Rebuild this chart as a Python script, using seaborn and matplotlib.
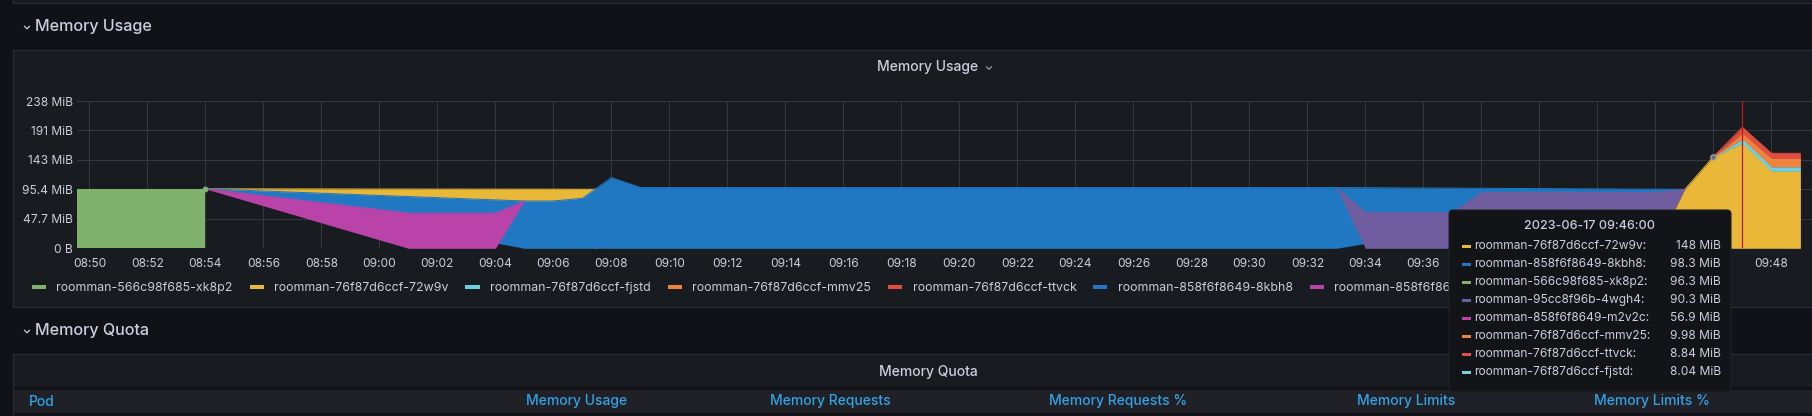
import matplotlib
matplotlib.use("Agg")
import matplotlib.pyplot as plt
import matplotlib.dates as mdates
from matplotlib.lines import Line2D
from matplotlib.patches import FancyBboxPatch, Rectangle
from matplotlib.ticker import FuncFormatter, MultipleLocator
from matplotlib.transforms import Affine2D, Bbox, TransformedBbox
import numpy as np
import pandas as pd
import seaborn as sns

W, H, DPI = 1812, 416, 100
MIB = 1048576
DAY = "2023-06-17 "

PAGE = "#111217"
PANEL = "#181b1f"
BORDER = "#2a2d33"
TEXT = "#ccccdc"
GRID = "#34373c"
LINK = "#33a2e5"

# pods in stacking order (bottom first), same order as the legend
pods = ["roomman-566c98f685-xk8p2", "roomman-76f87d6ccf-72w9v", "roomman-76f87d6ccf-fjstd",
        "roomman-76f87d6ccf-mmv25", "roomman-76f87d6ccf-ttvck", "roomman-858f6f8649-8kbh8",
        "roomman-858f6f8649-m2v2c", "roomman-95cc8f96b-4wgh4"]
colors = ["#7eb26d", "#eab839", "#6ed0e0", "#ef843c", "#e24d42", "#1f78c1", "#ba43a9", "#705da0"]

# samples (MiB); None = gap in the series
xk8p2_t = ["08:49", "08:50", "08:51", "08:52", "08:53", "08:54"]
xk8p2_v = [96.3, 96.3, 96.3, 96.3, 96.3, 96.3]
w9v_t = ["08:54", "09:07:30", "09:08", "09:44", "09:45", "09:46", "09:47", "09:48", "09:49"]
w9v_v = [0, 95.5, None, 0, 94.4, 148, 170, 125, 125]
fjstd_t = ["09:46", "09:47", "09:48", "09:49"]
fjstd_v = [0, 7.0, 7.0, 7.0]
mmv25_t = ["09:46", "09:47", "09:48", "09:49"]
mmv25_v = [0, 9.2, 13.6, 13.6]
ttvck_t = ["09:46", "09:47", "09:48", "09:49"]
ttvck_v = [0, 9.7, 8.1, 8.1]
kbh8_t = ["08:54", "09:05", "09:06", "09:07", "09:08", "09:09", "09:15", "09:21", "09:27", "09:33", "09:45"]
kbh8_v = [0, 76.6, 76.6, 81.0, 114.4, 98.3, 98.3, 98.3, 98.3, 98.3, 1.0]
m2v2c_t = ["08:54", "09:01", "09:04", "09:05"]
m2v2c_v = [0, 57.0, 57.0, 0]
wgh4_t = ["09:33", "09:34", "09:37", "09:38", "09:41", "09:44", "09:45"]
wgh4_v = [0, 57.8, 57.8, 90.3, 90.3, 90.3, 0]

series = dict(zip(pods, [(xk8p2_t, xk8p2_v), (w9v_t, w9v_v), (fjstd_t, fjstd_v),
                         (mmv25_t, mmv25_v), (ttvck_t, ttvck_v), (kbh8_t, kbh8_v),
                         (m2v2c_t, m2v2c_v), (wgh4_t, wgh4_v)]))

# tooltip at the hovered time
hover_time = "2023-06-17 09:46:00"
hover_pods = ["roomman-76f87d6ccf-72w9v", "roomman-858f6f8649-8kbh8", "roomman-566c98f685-xk8p2",
              "roomman-95cc8f96b-4wgh4", "roomman-858f6f8649-m2v2c", "roomman-76f87d6ccf-mmv25",
              "roomman-76f87d6ccf-ttvck", "roomman-76f87d6ccf-fjstd"]
hover_vals = ["148 MiB", "98.3 MiB", "96.3 MiB", "90.3 MiB", "56.9 MiB", "9.98 MiB", "8.84 MiB", "8.04 MiB"]
# x labels hidden behind the tooltip
hidden_ticks = ["09:38", "09:40", "09:42", "09:44", "09:46"]

quota_cols = ["Pod", "Memory Usage", "Memory Requests", "Memory Requests %", "Memory Limits", "Memory Limits %"]
quota_x = [29, 526, 770, 1049, 1357, 1594]

TIP = (1449, 210, 282, 182)


def stamps(ts):
    return pd.to_datetime([DAY + t for t in ts], format="mixed")


def runs(ts, vs):
    out, cur = [], []
    for t, v in zip(ts, vs):
        if v is None:
            if cur:
                out.append(cur)
            cur = []
        else:
            cur.append(t)
    if cur:
        out.append(cur)
    return out


df = pd.DataFrame({p: pd.Series([np.nan if v is None else v for v in vs], index=stamps(ts))
                   for p, (ts, vs) in series.items()})[pods]
filled = df.fillna(0)
top = filled.cumsum(axis=1)
base = top - filled

sns.set_theme(style="dark", rc={"figure.facecolor": PAGE, "axes.facecolor": PANEL,
                                "savefig.facecolor": PAGE})
plt.rcParams["font.family"] = ["Inter", "DejaVu Sans"]

fig = plt.figure(figsize=(W / DPI, H / DPI), dpi=DPI)
pix = Affine2D().scale(1 / DPI, -1 / DPI).translate(0, H / DPI) + fig.dpi_scale_trans


def box(x, y, w, h, fc, ec="none", z=-5, lw=0.8):
    fig.add_artist(Rectangle((x, y), w, h, transform=pix, facecolor=fc, edgecolor=ec, lw=lw, zorder=z))


def chevron(x, y, s=3.0, c=TEXT):
    fig.add_artist(Line2D([x - s, x, x + s], [y - s / 2, y + s / 2, y - s / 2], transform=pix,
                          color=c, lw=0.9, zorder=5))


# dashboard panels
box(13.4, -20, W, 23.3, PANEL, BORDER)
box(13.4, 50, W, 257.3, PANEL, BORDER)
box(13.4, 354, W, 80, PANEL, BORDER)
box(14, 386.5, W, 3, PAGE, z=-4)
box(14, 389.5, W, 23, "#1f2126", z=-4)
box(14, 412.5, W, 6, PAGE, z=-4)

fig.text(35, 26.7, "Memory Usage", transform=pix, fontsize=11.6, color=TEXT, weight=500, va="center")
chevron(27, 27.5, 2.6)
fig.text(35, 330, "Memory Quota", transform=pix, fontsize=11.6, color=TEXT, weight=500, va="center")
chevron(27, 331.5, 2.6)
fig.text(928, 66.7, "Memory Usage", transform=pix, fontsize=10, color=TEXT, weight=500,
         ha="center", va="center")
chevron(989, 68, 2.6, "#9a9aa6")
fig.text(928.3, 371.7, "Memory Quota", transform=pix, fontsize=10, color=TEXT, weight=500,
         ha="center", va="center")
for name, x in zip(quota_cols, quota_x):
    fig.text(x, 401.5, name, transform=pix, fontsize=10, color=LINK, weight=500, va="center")

# time series panel
x0, y_top, y_bot = 77.3, 101, 248.3
ax = fig.add_axes([x0 / W, 1 - y_bot / H, (W - x0) / W, (y_bot - y_top) / H])
ax.set_axisbelow(True)
ax.grid(True, color=GRID, lw=0.75)
for s in ax.spines.values():
    s.set_visible(False)

for pod, color in zip(pods, colors):
    ts, vs = series[pod]
    for run in runs(ts, vs):
        idx = stamps(run)
        lo = base.loc[idx, pod].values * MIB
        hi = top.loc[idx, pod].values * MIB
        ax.fill_between(idx, lo, hi, color=color, lw=0, zorder=2)
        sns.lineplot(x=idx, y=hi, ax=ax, color=color, lw=0.72, estimator=None, zorder=2, legend=False)

t854 = stamps(["08:54"])[0]
ax.plot([t854], [top.loc[t854, pods[0]] * MIB], "o", ms=3.2, color=colors[0], zorder=4)
hov = stamps(["09:46"])[0]
ax.plot([hov], [top.loc[hov, pods[1]] * MIB], "o", ms=4, mfc="#6e6f74", mec="#a4a4ad", mew=0.8, zorder=4)
ax.axvline(stamps(["09:47"])[0], color="#b81c1c", lw=0.9, zorder=4)

ax.set_xlim(pd.Timestamp(DAY + "08:49:35"), pd.Timestamp(DAY + "09:49:24"))
ax.set_ylim(0, 250e6)
ax.yaxis.set_major_locator(MultipleLocator(50e6))
ax.yaxis.set_major_formatter(FuncFormatter(lambda v, _: "0 B" if v == 0 else f"{v / MIB:.3g} MiB"))
ax.xaxis.set_major_locator(mdates.MinuteLocator(byminute=range(0, 60, 2)))


def hhmm(v, _):
    s = mdates.num2date(v).strftime("%H:%M")
    return "" if s in hidden_ticks else s


ax.xaxis.set_major_formatter(FuncFormatter(hhmm))
ax.tick_params(axis="both", length=0, labelsize=8.64, labelcolor=TEXT)
ax.tick_params(axis="x", pad=7.2)
ax.tick_params(axis="y", pad=3.2)
ax.set_xlabel("")
ax.set_ylabel("")

# legend under the graph (its tail runs under the tooltip)
handles = [Line2D([], [], color=c, lw=2.9, solid_capstyle="butt") for c in colors[:7]]
leg = fig.legend(handles, pods[:7], loc="center left", bbox_to_anchor=(31.8, 288.3), bbox_transform=pix,
                 ncol=7, frameon=False, fontsize=8.9, labelcolor=TEXT, handlelength=1.14,
                 handletextpad=0.85, columnspacing=1.36, borderpad=0, borderaxespad=0)
clip = TransformedBbox(Bbox.from_extents(0, 0, TIP[0], H), pix)
for t in leg.get_texts():
    t.set_clip_box(clip)
    t.set_clip_on(True)

# hover tooltip
fig.add_artist(FancyBboxPatch(TIP[:2], TIP[2], TIP[3], boxstyle="round,pad=0,rounding_size=4",
                              transform=pix, facecolor="#131418", edgecolor="#202227", lw=0.8, zorder=20))
fig.text(1590, 225.7, hover_time, transform=pix, fontsize=9, color=TEXT, weight=500,
         ha="center", va="center", zorder=21)
cmap = dict(zip(pods, colors))
for i, (pod, val) in enumerate(zip(hover_pods, hover_vals)):
    y = 246.3 + 18 * i
    fig.add_artist(Rectangle((1461.7, y - 1.5), 9, 3, transform=pix, facecolor=cmap[pod],
                             edgecolor="none", zorder=21))
    fig.text(1474.3, y, pod + ":", transform=pix, fontsize=8.64, color=TEXT, va="center", zorder=21)
    fig.text(1720.7, y, val, transform=pix, fontsize=8.64, color=TEXT, va="center", ha="right", zorder=21)

fig.savefig("out.png", dpi=DPI)
